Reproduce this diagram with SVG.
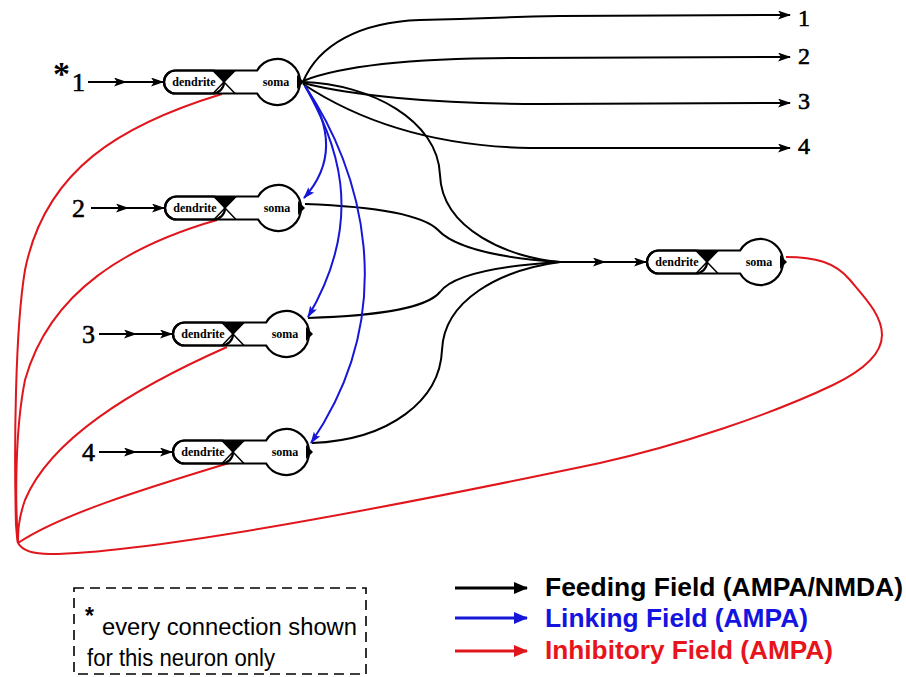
<svg xmlns="http://www.w3.org/2000/svg" xmlns:xlink="http://www.w3.org/1999/xlink" width="906" height="677" viewBox="0 0 906 677">
<style>
.k{fill:none;stroke:#000;stroke-width:2}
.b{fill:none;stroke:#1616d8;stroke-width:2}
.r{fill:none;stroke:#e0161c;stroke-width:2}
.den{font-family:"Liberation Serif",serif;font-weight:bold;font-size:12px;text-anchor:middle}
.som{font-family:"Liberation Serif",serif;font-weight:bold;font-size:12px;text-anchor:middle}
.num{font-family:"Liberation Serif",serif;font-size:26px;stroke:#000;stroke-width:0.6}
.onum{font-family:"Liberation Serif",serif;font-size:24px;stroke:#000;stroke-width:0.6}
.leg{font-family:"Liberation Sans",Arial,sans-serif;font-weight:bold;font-size:25px}
.note{font-family:"Liberation Sans",Arial,sans-serif;font-size:23px}
</style>
<defs>
<marker id="ak" markerUnits="userSpaceOnUse" markerWidth="13" markerHeight="9" refX="12" refY="4.5" orient="auto"><path d="M0,0 L13,4.5 L0,9 L3,4.5 Z" fill="#000"/></marker>
<marker id="abl" markerUnits="userSpaceOnUse" markerWidth="12" markerHeight="8" refX="11" refY="4" orient="auto"><path d="M0,0 L12,4 L0,8 L2.5,4 Z" fill="#1616d8"/></marker>
<marker id="lk" markerUnits="userSpaceOnUse" markerWidth="14" markerHeight="12" refX="13" refY="6" orient="auto"><path d="M0,0 L14,6 L0,12 Z" fill="#000"/></marker>
<marker id="lb" markerUnits="userSpaceOnUse" markerWidth="14" markerHeight="12" refX="13" refY="6" orient="auto"><path d="M0,0 L14,6 L0,12 Z" fill="#1616d8"/></marker>
<marker id="lr" markerUnits="userSpaceOnUse" markerWidth="14" markerHeight="12" refX="13" refY="6" orient="auto"><path d="M0,0 L14,6 L0,12 Z" fill="#e0161c"/></marker>
<g id="neuron">
<path d="M11.5,-11.5 H93.1 A23,23 0 1 1 93.1,11.5 H11.5 A11.5,11.5 0 0 1 11.5,-11.5 Z" fill="#fff" stroke="#000" stroke-width="2.2"/>
<rect x="0" y="-11.5" width="60" height="23" rx="11.5" fill="none" stroke="#000" stroke-width="2.2"/>
<path d="M49,-11.5 L71,11.5 M71,-11.5 L49,11.5" stroke="#000" stroke-width="1.5" fill="none"/>
<path d="M48,-11.5 L72,-11.5 L60,0 Z" fill="#000"/>
<path d="M133,-7 L140,0 L133,7 Z" fill="#000"/>
</g>
</defs>

<g id="connectors">
<path class="k" d="M88,82 L126,82 L163,82" marker-mid="url(#ak)" marker-end="url(#ak)"/>
<path class="k" d="M91,208 L128,208 L164,208" marker-mid="url(#ak)" marker-end="url(#ak)"/>
<path class="k" d="M99,334 L136,334 L172,334" marker-mid="url(#ak)" marker-end="url(#ak)"/>
<path class="k" d="M99,452 L136,452 L172,452" marker-mid="url(#ak)" marker-end="url(#ak)"/>
<path class="k" d="M303,82 C318,45 360,22 420,20 C500,18 530,16 560,16 L790,15" marker-end="url(#ak)"/>
<path class="k" d="M303,81 C340,66 410,58 520,58 L790,57" marker-end="url(#ak)"/>
<path class="k" d="M303,83 C350,95 430,104 540,104 L790,103" marker-end="url(#ak)"/>
<path class="k" d="M303,84 C350,115 420,146 530,148 L790,148" marker-end="url(#ak)"/>
<path class="k" d="M303,82 C370,84 438,120 440,175 C442,230 510,258 560,262"/>
<path class="k" d="M305,204 C360,206 420,212 438,230 C455,248 500,258 560,262"/>
<path class="k" d="M308,318 C370,316 425,310 440,292 C455,272 510,265 560,262"/>
<path class="k" d="M312,443 C390,440 440,400 442,350 C444,300 500,270 560,262"/>
<path class="k" d="M560,262 L605,262 L646,262" marker-mid="url(#ak)" marker-end="url(#ak)"/>
<path class="b" d="M305,86 C328,120 338,160 304,198" marker-end="url(#abl)"/>
<path class="b" d="M305,86 C335,140 368,215 308,317" marker-end="url(#abl)"/>
<path class="b" d="M305,86 C362,170 402,310 311,443" marker-end="url(#abl)"/>
<path class="r" d="M786,257 C815,257 835,262 850,280 C865,298 882,315 882,335 C882,355 860,372 833,385 C770,415 680,445 600,463 C400,505 150,553 50,554 C32,554 22,550 18,543"/>
<path class="r" d="M222,94 C120,125 45,170 25,270 C15,330 14,450 16,525 C17,536 17,540 18,543"/>
<path class="r" d="M217,220 C130,245 50,290 25,380 C15,430 15,500 18,543"/>
<path class="r" d="M227,347 C130,390 50,440 25,500 C18,520 18,533 18,543"/>
<path class="r" d="M229,463 C140,490 60,515 18,543"/>
</g>

<g id="neuron1">
<use xlink:href="#neuron" href="#neuron" transform="translate(164,82)"/>
<text class="den" x="194" y="86">dendrite</text>
<text class="som" x="276" y="86">soma</text>
</g>
<g id="neuron2">
<use xlink:href="#neuron" href="#neuron" transform="translate(165,208)"/>
<text class="den" x="195" y="212">dendrite</text>
<text class="som" x="277" y="212">soma</text>
</g>
<g id="neuron3">
<use xlink:href="#neuron" href="#neuron" transform="translate(173,334)"/>
<text class="den" x="203" y="338">dendrite</text>
<text class="som" x="285" y="338">soma</text>
</g>
<g id="neuron4">
<use xlink:href="#neuron" href="#neuron" transform="translate(173,452)"/>
<text class="den" x="203" y="456">dendrite</text>
<text class="som" x="285" y="456">soma</text>
</g>
<g id="neuron5">
<use xlink:href="#neuron" href="#neuron" transform="translate(647,262)"/>
<text class="den" x="677" y="266">dendrite</text>
<text class="som" x="759" y="266">soma</text>
</g>

<g id="input-labels">
<text x="53" y="85" font-family="Liberation Serif,serif" font-weight="bold" font-size="34">*</text>
<text class="num" x="72" y="91">1</text>
<text class="num" x="72" y="217">2</text>
<text class="num" x="82" y="343">3</text>
<text class="num" x="82" y="461">4</text>
</g>
<g id="output-labels">
<text class="onum" x="798" y="26">1</text>
<text class="onum" x="798" y="64">2</text>
<text class="onum" x="798" y="109">3</text>
<text class="onum" x="798" y="154">4</text>
</g>

<g id="note">
<rect x="74" y="588" width="292" height="86" fill="none" stroke="#000" stroke-width="1.6" stroke-dasharray="10,6"/>
<text class="note" x="85" y="624" font-size="32" font-weight="bold">*</text>
<text class="note" x="102" y="635" textLength="255" lengthAdjust="spacingAndGlyphs">every connection shown</text>
<text class="note" x="87" y="666" textLength="188" lengthAdjust="spacingAndGlyphs">for this neuron only</text>
</g>

<g id="legend">
<path d="M455,588 H527" stroke="#000" stroke-width="3" marker-end="url(#lk)"/>
<path d="M455,618 H527" stroke="#1616d8" stroke-width="3" marker-end="url(#lb)"/>
<path d="M455,651 H527" stroke="#e0161c" stroke-width="3" marker-end="url(#lr)"/>
<text class="leg" x="545" y="596" fill="#000" textLength="358" lengthAdjust="spacingAndGlyphs">Feeding Field (AMPA/NMDA)</text>
<text class="leg" x="545" y="627" fill="#1414e0" textLength="263" lengthAdjust="spacingAndGlyphs">Linking Field (AMPA)</text>
<text class="leg" x="545" y="659" fill="#e8141c" textLength="288" lengthAdjust="spacingAndGlyphs">Inhibitory Field (AMPA)</text>
</g>
</svg>
